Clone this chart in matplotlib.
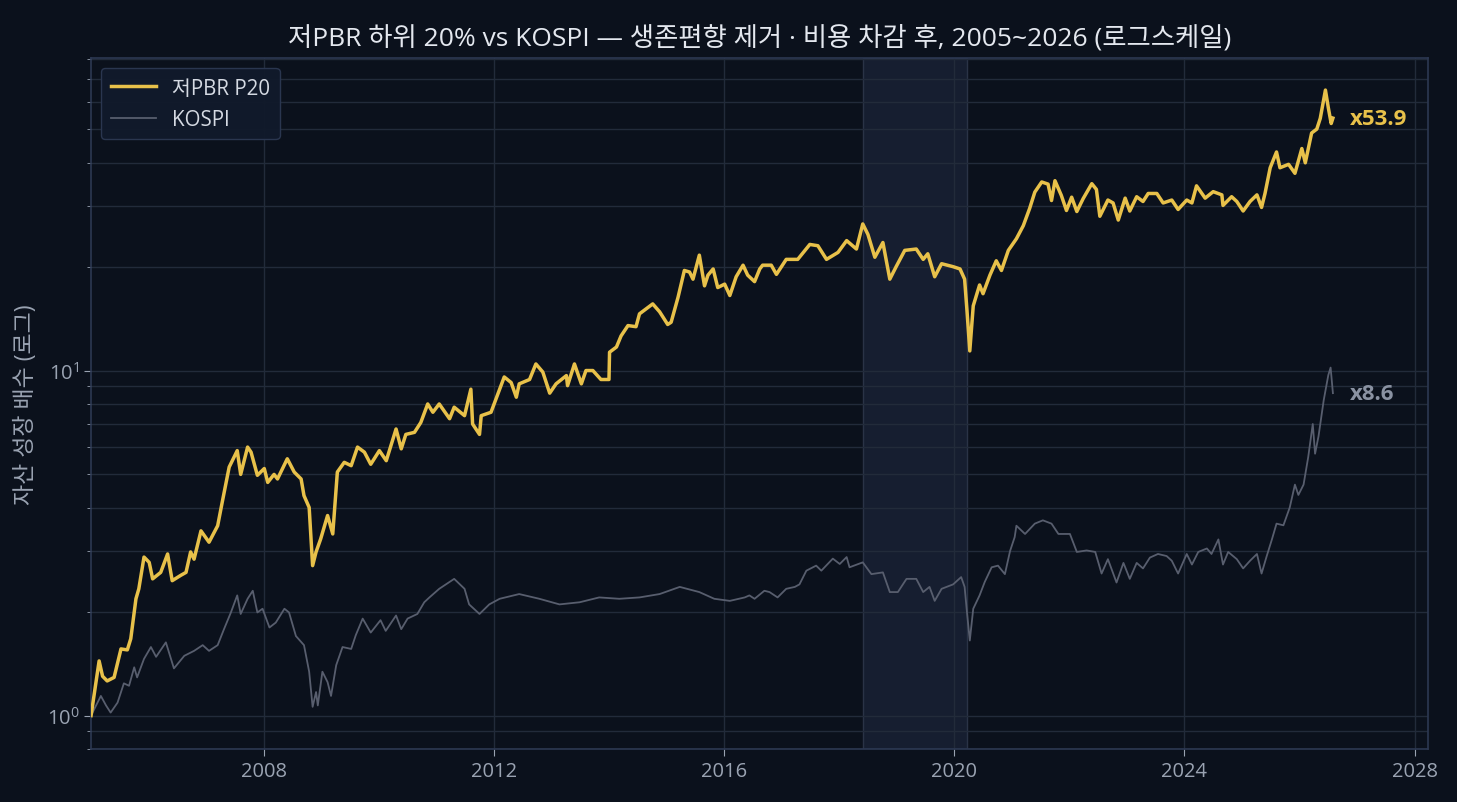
import matplotlib
matplotlib.use("Agg")
import matplotlib.pyplot as plt
from matplotlib.ticker import MultipleLocator, LogLocator

plt.rcParams['font.family'] = ['Open Sans', 'Noto Sans CJK KR', 'DejaVu Sans']
plt.rcParams['mathtext.fontset'] = 'custom'
plt.rcParams['mathtext.rm'] = 'Open Sans'
plt.rcParams['mathtext.it'] = 'Open Sans'

# 저PBR 하위 20% 포트폴리오 (연도, 누적 배수)
pbr_t = [2005.00, 2005.14, 2005.20, 2005.28, 2005.40, 2005.52, 2005.63, 2005.69, 2005.78, 2005.83,
         2005.92, 2006.01, 2006.07, 2006.21, 2006.33, 2006.41, 2006.56, 2006.65, 2006.73, 2006.79,
         2006.91, 2007.05, 2007.20, 2007.28, 2007.40, 2007.54, 2007.60, 2007.72, 2007.78, 2007.89,
         2008.01, 2008.07, 2008.18, 2008.24, 2008.41, 2008.53, 2008.65, 2008.70, 2008.79, 2008.82,
         2008.85, 2008.91, 2008.99, 2009.11, 2009.20, 2009.28, 2009.40, 2009.52, 2009.63, 2009.75,
         2009.86, 2010.01, 2010.13, 2010.30, 2010.39, 2010.47, 2010.62, 2010.73, 2010.85, 2010.94,
         2011.05, 2011.23, 2011.31, 2011.49, 2011.60, 2011.63, 2011.75, 2011.78, 2011.95, 2012.10,
         2012.18, 2012.30, 2012.39, 2012.44, 2012.62, 2012.73, 2012.85, 2012.97, 2013.08, 2013.26,
         2013.28, 2013.40, 2013.52, 2013.60, 2013.72, 2013.86, 2014.00, 2014.01, 2014.13, 2014.21,
         2014.33, 2014.47, 2014.53, 2014.76, 2014.88, 2015.02, 2015.08, 2015.20, 2015.31, 2015.40,
         2015.46, 2015.57, 2015.66, 2015.72, 2015.81, 2015.89, 2016.01, 2016.10, 2016.21, 2016.33,
         2016.41, 2016.53, 2016.62, 2016.67, 2016.82, 2016.91, 2017.08, 2017.28, 2017.49, 2017.63,
         2017.78, 2017.98, 2018.13, 2018.30, 2018.41, 2018.50, 2018.62, 2018.76, 2018.88, 2018.99,
         2019.14, 2019.34, 2019.46, 2019.54, 2019.66, 2019.78, 2019.98, 2020.10, 2020.18, 2020.22,
         2020.27, 2020.33, 2020.44, 2020.50, 2020.62, 2020.73, 2020.82, 2020.94, 2021.08, 2021.20,
         2021.31, 2021.40, 2021.52, 2021.63, 2021.69, 2021.75, 2021.86, 2021.95, 2022.04, 2022.13,
         2022.24, 2022.39, 2022.47, 2022.53, 2022.67, 2022.76, 2022.85, 2022.97, 2023.05, 2023.17,
         2023.28, 2023.37, 2023.52, 2023.63, 2023.78, 2023.89, 2024.04, 2024.13, 2024.21, 2024.36,
         2024.50, 2024.65, 2024.67, 2024.82, 2024.91, 2025.02, 2025.14, 2025.26, 2025.34, 2025.40,
         2025.49, 2025.60, 2025.66, 2025.81, 2025.92, 2026.04, 2026.10, 2026.21, 2026.30, 2026.36,
         2026.45, 2026.50, 2026.55, 2026.58]
pbr_v = [1.00, 1.44, 1.30, 1.26, 1.29, 1.56, 1.55, 1.67, 2.18, 2.33,
         2.88, 2.78, 2.49, 2.60, 2.94, 2.46, 2.55, 2.60, 2.98, 2.84,
         3.43, 3.18, 3.55, 4.16, 5.25, 5.86, 5.00, 6.00, 5.80, 4.97,
         5.20, 4.74, 5.00, 4.85, 5.55, 5.08, 4.85, 4.34, 4.01, 3.32,
         2.72, 2.98, 3.25, 3.80, 3.36, 5.08, 5.42, 5.30, 6.00, 5.80,
         5.35, 5.86, 5.48, 6.77, 5.93, 6.53, 6.62, 7.07, 8.00, 7.57,
         8.00, 7.25, 7.83, 7.40, 8.83, 7.00, 6.53, 7.40, 7.57, 8.83,
         9.58, 9.23, 8.37, 9.15, 9.42, 10.45, 9.90, 8.60, 9.15, 9.67,
         9.04, 10.45, 9.15, 10.00, 10.00, 9.42, 9.42, 11.30, 11.70, 12.60,
         13.50, 13.40, 14.60, 15.60, 14.80, 13.60, 13.80, 16.30, 19.50, 19.30,
         18.40, 21.60, 17.60, 18.90, 19.70, 17.40, 17.80, 16.50, 18.70, 20.20,
         18.90, 18.10, 19.70, 20.20, 20.20, 19.00, 21.00, 21.00, 23.20, 23.00,
         21.00, 22.00, 23.80, 22.50, 26.60, 24.80, 21.30, 23.50, 18.40, 20.00,
         22.30, 22.50, 21.00, 21.80, 18.70, 20.40, 20.00, 19.70, 18.40, 15.00,
         11.40, 15.40, 17.70, 16.70, 18.90, 20.80, 19.50, 22.30, 24.10, 26.30,
         29.50, 32.90, 35.20, 34.70, 31.10, 35.50, 32.20, 29.10, 31.80, 28.90,
         31.50, 34.80, 33.50, 28.00, 31.20, 30.60, 27.30, 31.60, 29.00, 31.90,
         30.90, 32.60, 32.60, 30.60, 31.20, 29.30, 31.20, 30.60, 34.30, 31.60,
         33.00, 32.30, 30.10, 31.90, 30.90, 29.00, 30.90, 32.30, 29.70, 32.60,
         38.70, 43.00, 38.70, 39.60, 37.30, 44.00, 40.00, 48.80, 50.10, 53.80,
         65.00, 57.80, 52.00, 53.90]

# KOSPI (연도, 누적 배수)
kospi_t = [2005.00, 2005.17, 2005.26, 2005.34, 2005.46, 2005.57, 2005.66, 2005.75, 2005.80, 2005.92,
           2006.04, 2006.13, 2006.30, 2006.44, 2006.62, 2006.79, 2006.94, 2007.05, 2007.20, 2007.31,
           2007.43, 2007.54, 2007.60, 2007.72, 2007.81, 2007.89, 2007.98, 2008.10, 2008.21, 2008.36,
           2008.44, 2008.56, 2008.70, 2008.79, 2008.85, 2008.91, 2008.94, 2009.02, 2009.11, 2009.17,
           2009.26, 2009.37, 2009.52, 2009.60, 2009.72, 2009.86, 2010.03, 2010.12, 2010.30, 2010.39,
           2010.50, 2010.67, 2010.79, 2010.88, 2011.05, 2011.31, 2011.49, 2011.57, 2011.75, 2011.92,
           2012.10, 2012.44, 2012.79, 2013.14, 2013.49, 2013.83, 2014.18, 2014.53, 2014.88, 2015.23,
           2015.57, 2015.83, 2016.10, 2016.36, 2016.44, 2016.53, 2016.70, 2016.79, 2016.93, 2017.08,
           2017.23, 2017.31, 2017.43, 2017.60, 2017.69, 2017.89, 2018.01, 2018.13, 2018.18, 2018.41,
           2018.56, 2018.76, 2018.88, 2019.02, 2019.17, 2019.34, 2019.46, 2019.57, 2019.66, 2019.78,
           2019.98, 2020.12, 2020.18, 2020.22, 2020.27, 2020.33, 2020.44, 2020.53, 2020.65, 2020.76,
           2020.88, 2020.97, 2021.05, 2021.08, 2021.23, 2021.40, 2021.54, 2021.69, 2021.81, 2022.01,
           2022.13, 2022.30, 2022.45, 2022.56, 2022.67, 2022.82, 2022.94, 2023.05, 2023.17, 2023.28,
           2023.40, 2023.54, 2023.69, 2023.78, 2023.89, 2024.04, 2024.13, 2024.24, 2024.39, 2024.47,
           2024.59, 2024.67, 2024.76, 2024.91, 2025.02, 2025.14, 2025.26, 2025.34, 2025.43, 2025.52,
           2025.60, 2025.72, 2025.83, 2025.92, 2025.98, 2026.07, 2026.15, 2026.23, 2026.27, 2026.33,
           2026.42, 2026.50, 2026.54, 2026.58]
kospi_v = [1.00, 1.14, 1.07, 1.02, 1.09, 1.24, 1.22, 1.38, 1.29, 1.46,
           1.58, 1.48, 1.63, 1.37, 1.49, 1.54, 1.60, 1.54, 1.60, 1.78,
           1.99, 2.23, 1.97, 2.18, 2.30, 1.99, 2.04, 1.80, 1.86, 2.04,
           1.99, 1.70, 1.60, 1.34, 1.06, 1.17, 1.07, 1.34, 1.25, 1.14,
           1.40, 1.58, 1.56, 1.71, 1.91, 1.74, 1.89, 1.76, 1.95, 1.78,
           1.91, 1.97, 2.13, 2.20, 2.33, 2.49, 2.33, 2.10, 1.97, 2.10,
           2.18, 2.25, 2.18, 2.10, 2.13, 2.20, 2.18, 2.20, 2.25, 2.36,
           2.28, 2.18, 2.15, 2.20, 2.23, 2.18, 2.30, 2.28, 2.20, 2.33,
           2.36, 2.40, 2.63, 2.72, 2.63, 2.85, 2.75, 2.88, 2.69, 2.78,
           2.57, 2.60, 2.28, 2.28, 2.49, 2.49, 2.28, 2.36, 2.15, 2.33,
           2.40, 2.52, 2.36, 2.00, 1.65, 2.04, 2.23, 2.44, 2.69, 2.72,
           2.57, 3.00, 3.29, 3.55, 3.36, 3.60, 3.68, 3.60, 3.36, 3.36,
           2.98, 3.01, 2.98, 2.58, 2.84, 2.43, 2.77, 2.49, 2.77, 2.67,
           2.87, 2.94, 2.90, 2.81, 2.58, 2.94, 2.74, 2.98, 3.05, 2.94,
           3.24, 2.74, 2.98, 2.84, 2.67, 2.81, 2.94, 2.58, 2.90, 3.24,
           3.60, 3.56, 4.01, 4.67, 4.36, 4.67, 5.60, 7.00, 5.74, 6.45,
           8.20, 9.70, 10.20, 8.60]

shade_start, shade_end = 2018.41, 2020.22

bg = '#0b111c'
yellow = '#e8c14a'
grey = '#585e6e'
txt = '#9aa3b2'
gridc = '#222b3a'

fig = plt.figure(figsize=(14.57, 8.03), dpi=100, facecolor=bg)
ax = fig.add_axes([0.0625, 0.066, 0.9175, 0.8605])
ax.set_facecolor(bg)

ax.axvspan(shade_start, shade_end, facecolor='#161e30', edgecolor='#2a3346', lw=1.0, zorder=0)

ax.plot(pbr_t, pbr_v, color=yellow, lw=2.5, label='저PBR P20', zorder=3)
ax.plot(kospi_t, kospi_v, color=grey, lw=1.3, label='KOSPI', zorder=2)

ax.set_yscale('log')
ax.set_ylim(0.8, 80.5)
ax.set_xlim(2005.0, 2028.23)
ax.xaxis.set_major_locator(MultipleLocator(4))
ax.xaxis.set_major_formatter(plt.FuncFormatter(lambda x, p: f'{int(round(x))}'))
ax.yaxis.set_minor_locator(LogLocator(base=10, subs=range(2, 10)))

ax.grid(True, which='major', color=gridc, lw=1.0)
ax.grid(True, which='minor', axis='y', color=gridc, lw=1.0)
ax.set_axisbelow(True)

for s in ax.spines.values():
    s.set_color('#2c3852')
    s.set_linewidth(1.2)
ax.tick_params(colors=txt, labelsize=14.5, length=5, which='major')
ax.tick_params(colors=txt, length=3, which='minor')

ax.set_ylabel('자산 성장 배수 (로그)', color=txt, fontsize=16.5, labelpad=6)
ax.set_title('저PBR 하위 20% vs KOSPI — 생존편향 제거 · 비용 차감 후, 2005~2026 (로그스케일)',
             color='#e4e8ef', fontsize=19, pad=10)

ax.annotate(f'x{pbr_v[-1]:.1f}', xy=(pbr_t[-1], pbr_v[-1]), xytext=(12, 0),
            textcoords='offset points', color=yellow, fontsize=16, fontweight='bold', va='center')
ax.annotate(f'x{kospi_v[-1]:.1f}', xy=(kospi_t[-1], kospi_v[-1]), xytext=(12, 0),
            textcoords='offset points', color='#8a92a2', fontsize=16, fontweight='bold', va='center')

leg = ax.legend(loc='upper left', fontsize=14.8, facecolor='#111a2b', edgecolor='#2c3852',
                framealpha=0.95, labelcolor='#d5dae3', borderpad=0.45, handlelength=2.2)

fig.savefig('out.png', dpi=100, facecolor=bg)
